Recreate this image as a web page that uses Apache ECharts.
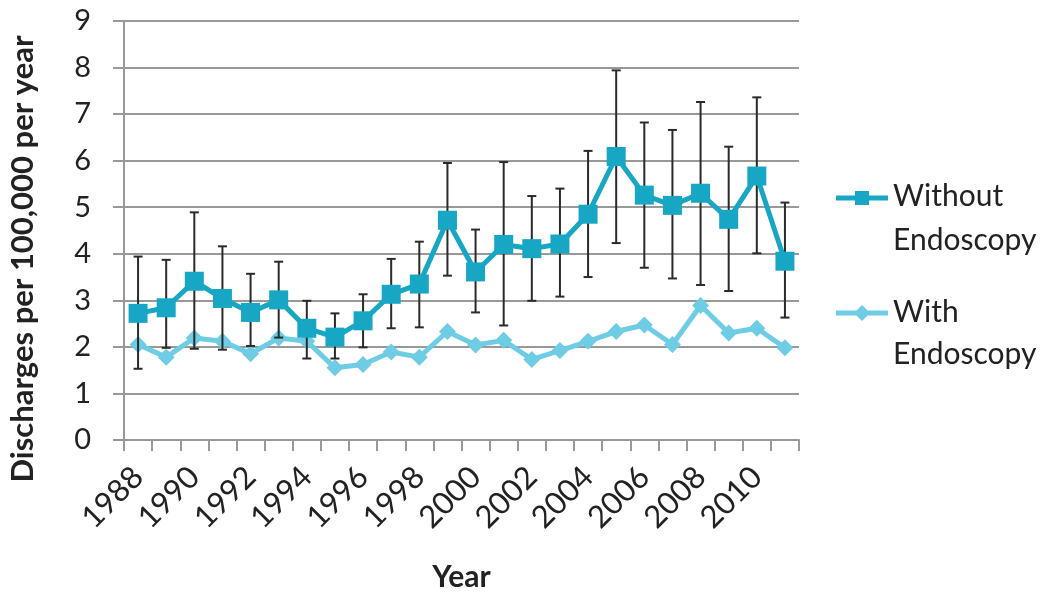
<!DOCTYPE html>
<html>
<head>
<meta charset="utf-8">
<script src="https://cdn.jsdelivr.net/npm/echarts@6/dist/echarts.min.js"></script>
<style>
html,body{margin:0;padding:0;background:#fff;}
#chart{width:1050px;height:597px;}
</style>
</head>
<body>
<div id="chart"></div>
<script>
var years = ['1988','1989','1990','1991','1992','1993','1994','1995','1996','1997','1998','1999','2000','2001','2002','2003','2004','2005','2006','2007','2008','2009','2010','2011'];
var withoutEndo = [2.72,2.84,3.41,3.04,2.74,3.01,2.40,2.21,2.56,3.13,3.35,4.72,3.61,4.20,4.11,4.21,4.85,6.09,5.26,5.04,5.30,4.74,5.67,3.84];
var withoutLow  = [1.53,1.98,1.96,1.94,2.02,2.20,1.75,1.75,1.99,2.40,2.42,3.53,2.74,2.46,2.99,3.08,3.50,4.23,3.70,3.47,3.33,3.20,4.01,2.63];
var withoutHigh = [3.94,3.87,4.89,4.16,3.57,3.83,2.99,2.72,3.13,3.89,4.26,5.95,4.52,5.97,5.24,5.40,6.21,7.94,6.82,6.66,7.26,6.30,7.36,5.10];
var withEndo    = [2.05,1.78,2.19,2.12,1.85,2.19,2.12,1.55,1.62,1.89,1.78,2.33,2.04,2.14,1.73,1.92,2.12,2.33,2.47,2.05,2.89,2.30,2.40,1.98];
var yTicks = [0,1,2,3,4,5,6,7,8,9];
var seriesNames = ['Without Endoscopy','With Endoscopy'];
var legendLines = [['Without','Endoscopy'],['With','Endoscopy']];
var yTitle = 'Discharges per 100,000 per year';
var xTitle = 'Year';

var FONT = 'Lato';
var DARK = '#17A6C3', LIGHT = '#6ECCE4';
var chart = echarts.init(document.getElementById('chart'));
var errData = years.map(function(y,i){ return [i, withoutLow[i], withoutHigh[i]]; });

function legendItem(y, color, symbol, lines, lineYs){
  var marker = symbol === 'rect'
    ? {type:'rect',shape:{x:855,y:y-7,width:14,height:14},style:{fill:color}}
    : {type:'polygon',shape:{points:[[862,y-8],[870,y],[862,y+8],[854,y]]},style:{fill:color}};
  var els = [
    {type:'line',shape:{x1:836,y1:y,x2:888,y2:y},style:{stroke:color,lineWidth:5}},
    marker
  ];
  lines.forEach(function(t,k){
    els.push({type:'text',x:893,y:lineYs[k],style:{text:t,font:'30px '+FONT,fill:'#222',textAlign:'left',textVerticalAlign:'middle'}});
  });
  return els;
}

chart.setOption({
  animation:false,
  backgroundColor:'#fff',
  textStyle:{fontFamily:FONT},
  grid:{left:124,right:251,top:21,bottom:154},
  graphic:[].concat(
    legendItem(198, DARK, 'rect', legendLines[0], [196,240]),
    legendItem(313, LIGHT, 'diamond', legendLines[1], [312,354]),
    [{type:'text',x:23,y:259,rotation:Math.PI/2,style:{text:yTitle,font:'bold 31px '+FONT,fill:'#222',textAlign:'center',textVerticalAlign:'middle'}}]
  ),
  xAxis:{
    type:'category', data:years, boundaryGap:true,
    name:xTitle, nameLocation:'middle', nameGap:122,
    nameTextStyle:{fontFamily:FONT,fontSize:30,fontWeight:'bold',color:'#222'},
    axisLine:{lineStyle:{color:'#999',width:2}},
    axisTick:{show:true,alignWithLabel:false,interval:0,length:11,lineStyle:{color:'#999',width:2}},
    axisLabel:{interval:1,rotate:45,fontSize:31,color:'#222',margin:32,fontFamily:FONT},
    splitLine:{show:false}
  },
  yAxis:{
    type:'value', min:yTicks[0], max:yTicks[yTicks.length-1], interval:1,
    axisLine:{show:true,lineStyle:{color:'#999',width:2}},
    axisTick:{show:true,length:11,lineStyle:{color:'#999',width:2}},
    axisLabel:{fontSize:29,color:'#222',margin:33,fontFamily:FONT},
    splitLine:{show:true,lineStyle:{color:'#999',width:2}}
  },
  series:[
    {
      name:seriesNames[1], type:'line', data:withEndo,
      symbol:'diamond', symbolSize:17, z:3, showAllSymbol:true,
      lineStyle:{color:LIGHT,width:5},
      itemStyle:{color:LIGHT}
    },
    {
      name:seriesNames[0], type:'line', data:withoutEndo,
      symbol:'rect', symbolSize:19, z:5, showAllSymbol:true,
      lineStyle:{color:DARK,width:5},
      itemStyle:{color:DARK}
    },
    {
      name:'err', type:'custom', z:4,
      data:errData,
      encode:{x:0,y:[1,2]},
      renderItem:function(params, api){
        var x = api.value(0);
        var lo = api.coord([x, api.value(1)]);
        var hi = api.coord([x, api.value(2)]);
        var hw = 4.5;
        var st = {stroke:'#2a2a2a',lineWidth:2};
        return {type:'group',children:[
          {type:'line',shape:{x1:lo[0],y1:lo[1],x2:hi[0],y2:hi[1]},style:st},
          {type:'line',shape:{x1:lo[0]-hw,y1:lo[1],x2:lo[0]+hw,y2:lo[1]},style:st},
          {type:'line',shape:{x1:hi[0]-hw,y1:hi[1],x2:hi[0]+hw,y2:hi[1]},style:st}
        ]};
      }
    }
  ]
});
</script>
</body>
</html>
